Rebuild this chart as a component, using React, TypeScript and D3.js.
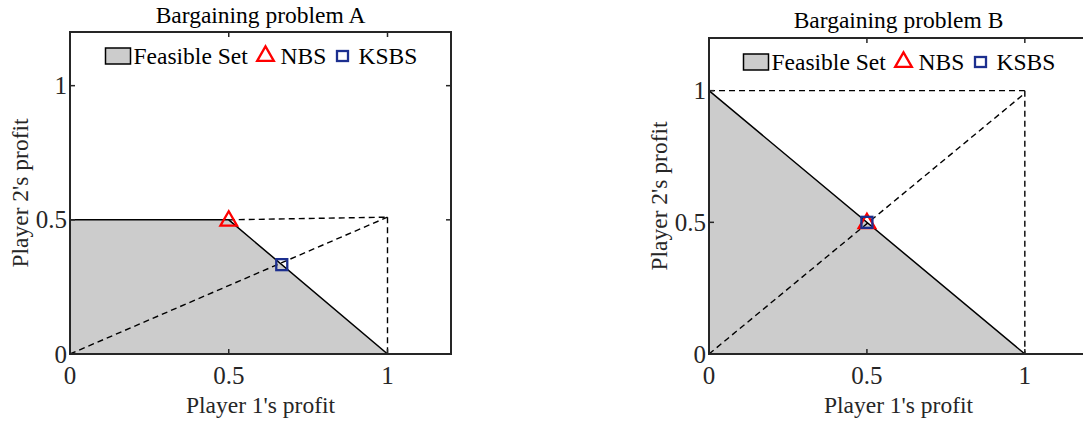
import React, { useEffect, useRef } from "react";
import * as d3 from "d3";

// tick values shared by both panels
const xTicks = [0, 0.5, 1];
const yTicks = [0, 0.5, 1];
const tickLabels = ["0", "0.5", "1"];

// Bargaining problem A
const feasibleA: [number, number][] = [[0, 0], [0, 0.5], [0.5, 0.5], [1, 0]];
const nbsA: [number, number] = [0.5, 0.5];
const ksbsA: [number, number] = [0.667, 0.333];
const dashedA: [number, number][][] = [
  [[0.5, 0.5], [1, 0.51]],
  [[0, 0], [1, 0.51]],
  [[1, 0.51], [1, 0]],
];

// Bargaining problem B
const feasibleB: [number, number][] = [[0, 0], [0, 1], [1, 0]];
const nbsB: [number, number] = [0.5, 0.5];
const ksbsB: [number, number] = [0.5, 0.5];
const dashedB: [number, number][][] = [
  [[0, 1], [1, 1]],
  [[0, 0], [1, 0.99]],
  [[1, 1], [1, 0]],
];

const legendLabels = ["Feasible Set", "NBS", "KSBS"];

const FONT = "'Liberation Serif', 'Times New Roman', serif";
const AXIS = "#262626";
const RED = "#ff0000";
const BLUE = "#1c2f8f";

type Panel = {
  title: string;
  left: number;
  top: number;
  width: number;
  height: number;
  feasible: [number, number][];
  nbs: [number, number];
  ksbs: [number, number];
  dashed: [number, number][][];
  titleY: number;
  ylabX: number;
};

const panels: Panel[] = [
  { title: "Bargaining problem A", left: 70, top: 32, width: 381, height: 322,
    feasible: feasibleA, nbs: nbsA, ksbs: ksbsA, dashed: dashedA, titleY: 23, ylabX: 28 },
  { title: "Bargaining problem B", left: 709, top: 38, width: 379, height: 316,
    feasible: feasibleB, nbs: nbsB, ksbs: ksbsB, dashed: dashedB, titleY: 28, ylabX: 667 },
];

const App = () => {
  const ref = useRef<SVGSVGElement>(null);

  useEffect(() => {
    const svg = d3.select(ref.current);
    svg.selectAll("*").remove();

    const tri = d3.symbol().type(d3.symbolTriangle).size(120);

    panels.forEach((p) => {
      const x = d3.scaleLinear().domain([0, 1.2]).range([p.left, p.left + p.width]);
      const y = d3.scaleLinear().domain([0, 1.2]).range([p.top + p.height, p.top]);
      const g = svg.append("g");

      // feasible set
      g.append("path")
        .datum(p.feasible)
        .attr("d", d3.line<[number, number]>().x((d) => x(d[0])).y((d) => y(d[1])).curve(d3.curveLinearClosed))
        .attr("fill", "#cccccc")
        .attr("stroke", "black")
        .attr("stroke-width", 1.5);

      // dashed guide lines
      p.dashed.forEach((seg) => {
        g.append("path")
          .datum(seg)
          .attr("d", d3.line<[number, number]>().x((d) => x(d[0])).y((d) => y(d[1])))
          .attr("fill", "none")
          .attr("stroke", "black")
          .attr("stroke-width", 1.4)
          .attr("stroke-dasharray", "6,4");
      });

      // NBS marker
      g.append("path")
        .attr("d", tri())
        .attr("transform", `translate(${x(p.nbs[0])},${y(p.nbs[1]) + 1})`)
        .attr("fill", "none")
        .attr("stroke", RED)
        .attr("stroke-width", 2.3);

      // KSBS marker
      g.append("rect")
        .attr("x", x(p.ksbs[0]) - 5.5)
        .attr("y", y(p.ksbs[1]) - 5.5)
        .attr("width", 11)
        .attr("height", 11)
        .attr("fill", "none")
        .attr("stroke", BLUE)
        .attr("stroke-width", 2.3);

      // axes box
      g.append("rect")
        .attr("x", p.left)
        .attr("y", p.top)
        .attr("width", p.width)
        .attr("height", p.height)
        .attr("fill", "none")
        .attr("stroke", AXIS)
        .attr("stroke-width", 2);

      // ticks (inside, all four sides)
      xTicks.forEach((t) => {
        g.append("line").attr("x1", x(t)).attr("x2", x(t))
          .attr("y1", p.top + p.height).attr("y2", p.top + p.height - 5)
          .attr("stroke", AXIS).attr("stroke-width", 1.5);
        g.append("line").attr("x1", x(t)).attr("x2", x(t))
          .attr("y1", p.top).attr("y2", p.top + 5)
          .attr("stroke", AXIS).attr("stroke-width", 1.5);
      });
      yTicks.forEach((t) => {
        g.append("line").attr("x1", p.left).attr("x2", p.left + 5)
          .attr("y1", y(t)).attr("y2", y(t))
          .attr("stroke", AXIS).attr("stroke-width", 1.5);
        g.append("line").attr("x1", p.left + p.width).attr("x2", p.left + p.width - 5)
          .attr("y1", y(t)).attr("y2", y(t))
          .attr("stroke", AXIS).attr("stroke-width", 1.5);
      });

      // tick labels
      xTicks.forEach((t, i) => {
        g.append("text")
          .attr("x", x(t)).attr("y", p.top + p.height + 30)
          .attr("text-anchor", "middle")
          .attr("font-family", FONT).attr("font-size", 25).attr("fill", AXIS)
          .text(tickLabels[i]);
      });
      yTicks.forEach((t, i) => {
        g.append("text")
          .attr("x", p.left - 3).attr("y", y(t) + 8.5)
          .attr("text-anchor", "end")
          .attr("font-family", FONT).attr("font-size", 25).attr("fill", AXIS)
          .text(tickLabels[i]);
      });

      // title + axis labels
      const cx = p.left + p.width / 2;
      g.append("text")
        .attr("x", cx).attr("y", p.titleY)
        .attr("text-anchor", "middle")
        .attr("font-family", FONT).attr("font-size", 23.5).attr("fill", "black")
        .text(p.title);
      g.append("text")
        .attr("x", cx).attr("y", 413)
        .attr("text-anchor", "middle")
        .attr("font-family", FONT).attr("font-size", 23.5).attr("fill", AXIS)
        .text("Player 1's profit");
      g.append("text")
        .attr("transform", `translate(${p.ylabX},${p.top + p.height / 2}) rotate(-90)`)
        .attr("text-anchor", "middle")
        .attr("font-family", FONT).attr("font-size", 23.5).attr("fill", AXIS)
        .text("Player 2's profit");

      // legend
      const ly = p.top + 32;
      const lg = g.append("g").attr("transform", `translate(${cx},${ly})`);
      lg.append("rect")
        .attr("x", -155).attr("y", -16).attr("width", 25).attr("height", 16)
        .attr("fill", "#cccccc").attr("stroke", "black").attr("stroke-width", 1.5);
      lg.append("text").attr("x", -127).attr("y", 0)
        .attr("font-family", FONT).attr("font-size", 23.5).attr("fill", "black")
        .text(legendLabels[0]);
      lg.append("path")
        .attr("d", tri())
        .attr("transform", "translate(5,-8)")
        .attr("fill", "none").attr("stroke", RED).attr("stroke-width", 2.3);
      lg.append("text").attr("x", 20).attr("y", 0)
        .attr("font-family", FONT).attr("font-size", 23.5).attr("fill", "black")
        .text(legendLabels[1]);
      lg.append("rect")
        .attr("x", 82 - 5.5).attr("y", -13).attr("width", 11).attr("height", 10)
        .attr("fill", "none").attr("stroke", BLUE).attr("stroke-width", 2.3);
      lg.append("text").attr("x", 98).attr("y", 0)
        .attr("font-family", FONT).attr("font-size", 23.5).attr("fill", "black")
        .text(legendLabels[2]);
    });
  }, []);

  return (
    <div style={{ position: "absolute", left: 0, top: 0 }}>
      <svg ref={ref} width={1083} height={425} style={{ display: "block", background: "white" }} />
    </div>
  );
};

export default App;
